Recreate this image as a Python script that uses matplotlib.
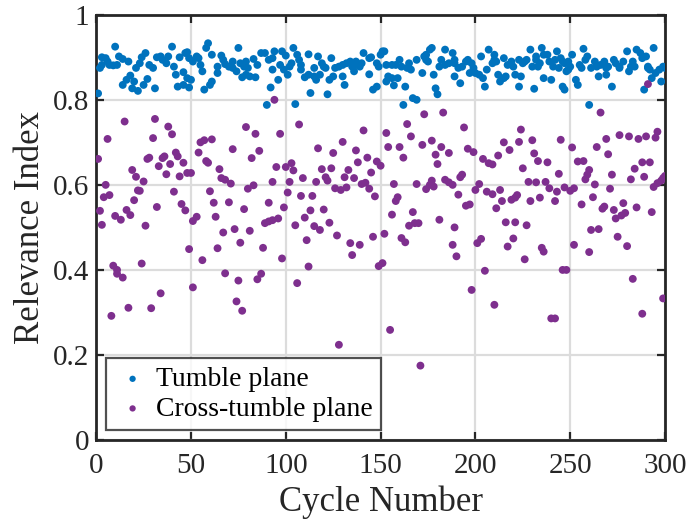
import matplotlib
matplotlib.use("Agg")
import matplotlib.pyplot as plt

plt.rcParams['font.family'] = ['Liberation Serif', 'DejaVu Serif']

# Tumble plane: (cycle, relevance index)
tumble_points = [
    (1, .815), (2, .875), (3, .882), (3, .900), (5, .898), (6, .890), (7, .882), (9, .881), (11, .882),
    (10, .925), (12, .902), (14, .896), (17, .890), (14, .835), (16, .847), (18, .857), (19, .827),
    (20, .843), (22, .821), (21, .875), (23, .886), (24, .900), (26, .910), (25, .835), (27, .849),
    (28, .882), (30, .875), (31, .827), (32, .900), (34, .902), (35, .894), (37, .886), (38, .902),
    (40, .925), (41, .878), (44, .900), (42, .859), (46, .865), (48, .912), (43, .831), (46, .835),
    (50, .847), (49, .829),
    (47, .910), (49, .898), (51, .890), (53, .902), (54, .898), (55, .882), (56, .867), (48, .851),
    (57, .824), (60, .835), (61, .843), (58, .922), (59, .933), (61, .906), (64, .878), (64, .863),
    (66, .904), (67, .894), (68, .884), (70, .878), (72, .890), (72, .875), (74, .867), (75, .922),
    (76, .886), (78, .878), (79, .890), (80, .875), (77, .853), (79, .859), (81, .855), (84, .853),
    (83, .896), (85, .882), (87, .910), (89, .910), (91, .894), (93, .898), (94, .914), (98, .914),
    (100, .904), (93, .871), (97, .882), (99, .871), (96, .847), (92, .829), (90, .788),
    (101, .859), (102, .878), (103, .886), (104, .922), (106, .906), (107, .894), (108, .882),
    (108, .871), (105, .790), (110, .853), (112, .859), (112, .907), (113, .816), (115, .875),
    (115, .855), (116, .847), (118, .859), (117, .902), (119, .886), (120, .878), (121, .875),
    (122, .813), (123, .847), (125, .855), (124, .898), (126, .875), (128, .878), (130, .855),
    (130, .882), (131, .835), (132, .886), (134, .890), (135, .878), (137, .890), (137, .882),
    (139, .878), (140, .886), (136, .867), (141, .910), (144, .898), (145, .900), (148, .886),
    (150, .906), (151, .914), (144, .860), (146, .824), (148, .831),
    (149, .878), (152, .914), (153, .882), (156, .882), (158, .882), (160, .894), (161, .878),
    (165, .886), (166, .871), (164, .875), (154, .855), (156, .851), (159, .851), (153, .843),
    (157, .834), (163, .831), (162, .788), (167, .804), (169, .800), (169, .894), (172, .863),
    (173, .902), (174, .894), (174, .906), (176, .918), (177, .922), (175, .890), (178, .859),
    (179, .827), (180, .813), (181, .878), (182, .894), (184, .918), (184, .882), (186, .886),
    (188, .910), (189, .894), (189, .886), (189, .855), (192, .839), (191, .875), (193, .878),
    (195, .890), (196, .894), (198, .886), (199, .875), (200, .863), (197, .863),
    (202, .859), (203, .902), (204, .851), (206, .871), (205, .831), (207, .918), (209, .886),
    (210, .894), (210, .906), (211, .890), (212, .859), (213, .843), (215, .851), (216, .855),
    (215, .898), (217, .882), (219, .890), (220, .878), (221, .859), (223, .831), (224, .855),
    (223, .894), (225, .886), (226, .890), (227, .894), (229, .918), (230, .878), (232, .894),
    (232, .902), (233, .878), (234, .886), (235, .922), (236, .906), (238, .906), (231, .826),
    (236, .851), (240, .847), (239, .890), (241, .878), (242, .894), (243, .914), (244, .875),
    (245, .898), (246, .890), (247, .886), (249, .871), (250, .878), (246, .831), (247, .824),
    (248, .867), (249, .890), (251, .906), (253, .847), (254, .835), (255, .882), (256, .875),
    (258, .894), (259, .902), (257, .920), (261, .875), (263, .890), (264, .878), (265, .855),
    (266, .882), (268, .890), (269, .875), (269, .859), (270, .878), (273, .894), (274, .886),
    (276, .878), (276, .875), (278, .890), (280, .914), (281, .867), (282, .878), (283, .890),
    (284, .878), (285, .918), (287, .910), (288, .898), (290, .902), (291, .875), (291, .878),
    (292, .871), (294, .922), (272, .831), (293, .851), (295, .863), (297, .871), (299, .878),
    (300, .875), (298, .843), (289, .824), (260, .788),
]

# Cross-tumble plane: (cycle, relevance index)
cross_points = [
    (1, .661), (5, .600), (4, .571), (7, .576), (2, .539), (3, .506), (6, .708), (15, .749), (9, .410),
    (11, .400), (11, .391), (14, .382), (8, .292), (17, .311), (10, .527), (13, .518), (16, .541),
    (18, .529), (20, .564), (22, .587), (23, .586), (19, .635), (21, .619), (25, .608), (26, .504),
    (24, .415), (29, .310), (34, .345), (32, .548), (27, .661), (28, .664), (30, .710), (31, .755),
    (38, .737), (40, .719), (33, .644), (35, .663), (36, .667), (39, .649), (37, .625), (42, .676),
    (43, .667), (46, .652), (44, .620), (48, .628), (50, .628), (41, .584), (45, .555), (47, .540),
    (51, .515), (49, .449), (51, .359),
    (53, .525), (56, .423), (54, .676), (55, .700), (57, .705), (61, .707), (58, .656), (59, .652),
    (60, .585), (62, .558), (63, .525), (65, .637), (66, .616), (68, .612), (71, .603), (64, .451),
    (67, .488), (68, .392), (70, .559), (72, .684), (73, .496), (75, .375), (74, .326), (77, .304),
    (76, .464), (78, .543), (79, .736), (80, .591), (83, .599), (81, .492), (82, .663), (84, .720),
    (86, .680), (85, .378), (87, .391), (88, .452), (89, .510), (91, .514), (93, .517), (96, .521),
    (91, .558), (93, .607), (95, .642), (97, .720), (99, .547), (98, .427), (100, .642), (101, .582),
    (94, .800),
    (103, .651), (104, .634), (102, .607), (107, .742), (105, .505), (106, .369), (109, .616),
    (108, .574), (110, .523), (111, .470), (112, .408), (113, .540), (114, .574), (115, .503),
    (118, .494), (116, .607), (117, .686), (119, .637), (120, .542), (121, .618), (122, .610),
    (123, .511), (124, .639), (125, .675), (126, .592), (129, .588), (132, .594), (127, .481),
    (128, .224), (130, .701), (131, .618), (133, .635), (136, .616), (134, .463), (135, .435),
    (137, .681), (138, .653), (139, .459), (140, .602), (142, .605), (144, .591), (141, .728),
    (143, .664), (145, .629), (147, .573), (146, .478), (148, .655), (150, .645), (149, .409),
    (151, .416), (152, .485),
    (153, .722), (154, .689), (157, .602), (156, .530), (155, .259), (158, .562), (159, .571),
    (160, .689), (162, .664), (161, .475), (163, .465), (164, .743), (166, .714), (165, .504),
    (168, .510), (170, .510), (167, .536), (169, .602), (171, .175), (172, .694), (173, .766),
    (174, .590), (176, .600), (177, .610), (178, .596), (177, .704), (179, .671), (180, .649),
    (181, .518), (182, .689), (183, .770), (184, .612), (186, .606), (188, .600), (186, .675),
    (189, .500), (188, .459), (190, .432), (191, .577), (192, .618), (193, .624), (194, .735),
    (195, .551), (197, .554), (196, .685), (199, .677), (198, .353), (200, .588), (201, .463),
    (202, .602), (203, .473), (204, .661), (205, .398), (206, .584), (209, .578), (207, .651),
    (209, .648), (210, .318), (211, .545), (212, .669), (213, .588), (214, .562), (215, .700),
    (216, .512), (217, .455), (218, .682), (219, .565), (221, .570), (222, .576), (220, .474),
    (221, .512), (223, .701), (224, .730), (225, .639), (226, .425), (227, .505), (228, .607),
    (232, .606), (229, .562), (230, .705), (231, .674), (233, .656), (234, .570), (235, .452),
    (236, .443), (237, .607), (239, .592), (238, .653), (240, .286), (242, .286), (242, .562),
    (243, .584), (244, .626), (245, .706), (246, .400), (248, .400), (247, .594), (250, .586),
    (251, .688), (252, .459), (252, .592),
    (254, .655), (257, .656), (256, .554), (258, .613), (259, .624), (260, .635), (260, .442),
    (261, .494), (265, .496), (262, .571), (263, .601), (264, .689), (266, .770), (267, .544),
    (268, .549), (269, .708), (270, .672), (271, .591), (272, .624), (273, .541), (274, .521),
    (277, .528), (279, .534), (275, .478), (276, .717), (278, .557), (280, .456), (281, .714),
    (282, .613), (283, .379), (284, .638), (285, .547), (286, .708), (288, .653), (288, .297),
    (289, .619), (290, .714), (291, .837), (292, .653), (293, .536), (294, .595), (296, .604),
    (298, .610), (299, .616), (300, .621), (295, .711), (296, .725), (299, .333),
]

x_ticks = [0, 50, 100, 150, 200, 250, 300]
y_ticks = [0, 0.2, 0.4, 0.6, 0.8, 1]
y_tick_labels = ['0', '0.2', '0.4', '0.6', '0.8', '1']
series_labels = ['Tumble plane', 'Cross-tumble plane']

tumble_x = [p[0] for p in tumble_points]
tumble_y = [p[1] for p in tumble_points]
cross_x = [p[0] for p in cross_points]
cross_y = [p[1] for p in cross_points]

blue = '#0072BD'
purple = '#7E2F8E'
dark = '#262626'

fig = plt.figure(figsize=(6.92, 5.27), dpi=100)
ax = fig.add_axes([0.139, 0.165, 0.822, 0.807])

ax.scatter(tumble_x, tumble_y, s=32, color=blue, edgecolors='none', label=series_labels[0], zorder=3)
ax.scatter(cross_x, cross_y, s=32, color=purple, edgecolors='none', label=series_labels[1], zorder=3)

ax.set_xlim(0, 300)
ax.set_ylim(0, 1)
ax.set_xticks(x_ticks)
ax.set_yticks(y_ticks)
ax.set_yticklabels(y_tick_labels)
ax.grid(True, color='#dcdcdc', linewidth=1.6, zorder=0)
ax.set_axisbelow(True)

ax.tick_params(direction='in', length=6, width=1.6, labelsize=21, top=True, right=True, colors=dark)
ax.tick_params(axis='x', pad=9)
ax.tick_params(axis='y', pad=5)
for sp in ax.spines.values():
    sp.set_linewidth(2.0)
    sp.set_color(dark)

ax.set_xlabel('Cycle Number', fontsize=25, color=dark, labelpad=5)
ax.set_ylabel('Relevance Index', fontsize=25, color=dark, labelpad=4)

leg = ax.legend(loc='lower left', fontsize=20, frameon=True, fancybox=False, edgecolor=dark,
                borderaxespad=0.0, handletextpad=0.2, borderpad=0.3, handlelength=1.3,
                labelspacing=0.15, markerscale=0.8, bbox_to_anchor=(0.0176, 0.0235))
leg.get_frame().set_linewidth(1.6)

fig.savefig('out.png', dpi=100)
